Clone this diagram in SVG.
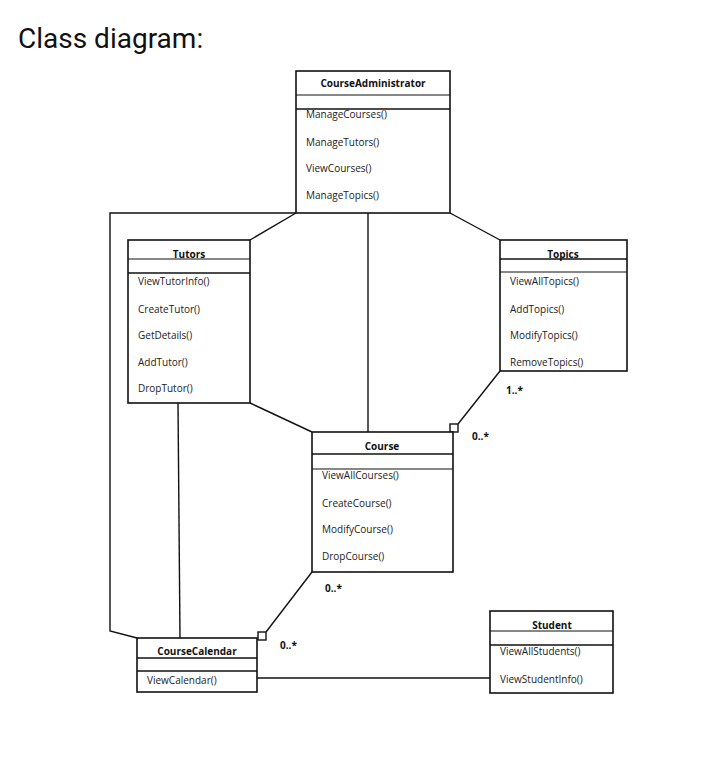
<svg xmlns="http://www.w3.org/2000/svg" width="720" height="767" viewBox="0 0 720 767">
<style>
.box{fill:#fff;stroke:#111;stroke-width:1.6}
.ln{stroke:#111;stroke-width:1.2;fill:none}
.c{stroke:#111;stroke-width:1.4;fill:none}
.t{font-family:"Open Sans","DejaVu Sans",sans-serif;font-size:10px;font-weight:bold;fill:#111;text-anchor:middle}
.m{font-family:"Open Sans","DejaVu Sans",sans-serif;font-size:10px;fill:#222}
.lb{font-family:"Open Sans","DejaVu Sans",sans-serif;font-size:10px;font-weight:bold;fill:#111}
</style>
<rect width="720" height="767" fill="#fff"/>
<text x="18" y="48" font-family="Roboto,sans-serif" font-size="28" fill="#111">Class diagram:</text>
<g id="connectors">
<polyline class="c" points="296,213 110,213 110,631 137,638"/>
<line class="c" x1="296" y1="213" x2="250" y2="240"/>
<line class="c" x1="368" y1="213" x2="368" y2="432"/>
<line class="c" x1="450" y1="213" x2="500" y2="240"/>
<line class="c" x1="250" y1="403" x2="312" y2="432"/>
<line class="c" x1="178" y1="403" x2="180" y2="638"/>
<line class="c" x1="500" y1="371" x2="458" y2="424"/>
<rect class="c" x="450" y="424" width="8" height="8" fill="#fff"/>
<line class="c" x1="312" y1="572" x2="266" y2="632"/>
<rect class="c" x="258" y="632" width="8" height="8" fill="#fff"/>
<line class="c" x1="257" y1="678" x2="490" y2="678"/>
<text class="lb" x="506" y="394">1..*</text>
<text class="lb" x="472" y="440">0..*</text>
<text class="lb" x="325" y="592">0..*</text>
<text class="lb" x="280" y="649">0..*</text>
</g>
<g id="CourseAdministrator">
<rect class="box" x="296" y="71" width="154" height="142"/>
<line class="ln" x1="296" y1="95" x2="450" y2="95"/>
<line class="box" x1="296" y1="109" x2="450" y2="109"/>
<text class="t" x="373" y="87">CourseAdministrator</text>
<text class="m" x="306" y="118">ManageCourses()</text>
<text class="m" x="306" y="146">ManageTutors()</text>
<text class="m" x="306" y="172">ViewCourses()</text>
<text class="m" x="306" y="199">ManageTopics()</text>
</g>
<g id="Tutors">
<rect class="box" x="128" y="240" width="122" height="163"/>
<line class="ln" x1="128" y1="259" x2="250" y2="259"/>
<line class="box" x1="128" y1="273" x2="250" y2="273"/>
<text class="t" x="189" y="258">Tutors</text>
<text class="m" x="138" y="285">ViewTutorInfo()</text>
<text class="m" x="138" y="313">CreateTutor()</text>
<text class="m" x="138" y="339">GetDetails()</text>
<text class="m" x="138" y="366">AddTutor()</text>
<text class="m" x="138" y="392">DropTutor()</text>
</g>
<g id="Topics">
<rect class="box" x="500" y="240" width="127" height="131"/>
<line class="box" x1="500" y1="259" x2="627" y2="259"/>
<line class="ln" x1="500" y1="272" x2="627" y2="272"/>
<text class="t" x="563" y="258">Topics</text>
<text class="m" x="510" y="285">ViewAllTopics()</text>
<text class="m" x="510" y="313">AddTopics()</text>
<text class="m" x="510" y="339">ModifyTopics()</text>
<text class="m" x="510" y="366">RemoveTopics()</text>
</g>
<g id="Course">
<rect class="box" x="312" y="432" width="141" height="140"/>
<line class="box" x1="312" y1="454" x2="453" y2="454"/>
<line class="ln" x1="312" y1="469" x2="453" y2="469"/>
<text class="t" x="382" y="450">Course</text>
<text class="m" x="322" y="479">ViewAllCourses()</text>
<text class="m" x="322" y="507">CreateCourse()</text>
<text class="m" x="322" y="533">ModifyCourse()</text>
<text class="m" x="322" y="560">DropCourse()</text>
</g>
<g id="CourseCalendar">
<rect class="box" x="137" y="638" width="120" height="54"/>
<line class="box" x1="137" y1="658" x2="257" y2="658"/>
<line class="box" x1="137" y1="671" x2="257" y2="671"/>
<text class="t" x="197" y="655">CourseCalendar</text>
<text class="m" x="147" y="684">ViewCalendar()</text>
</g>
<g id="Student">
<rect class="box" x="490" y="611" width="123" height="82"/>
<line class="ln" x1="490" y1="631" x2="613" y2="631"/>
<line class="box" x1="490" y1="645" x2="613" y2="645"/>
<text class="t" x="552" y="629">Student</text>
<text class="m" x="500" y="655">ViewAllStudents()</text>
<text class="m" x="500" y="683">ViewStudentInfo()</text>
</g>
</svg>
